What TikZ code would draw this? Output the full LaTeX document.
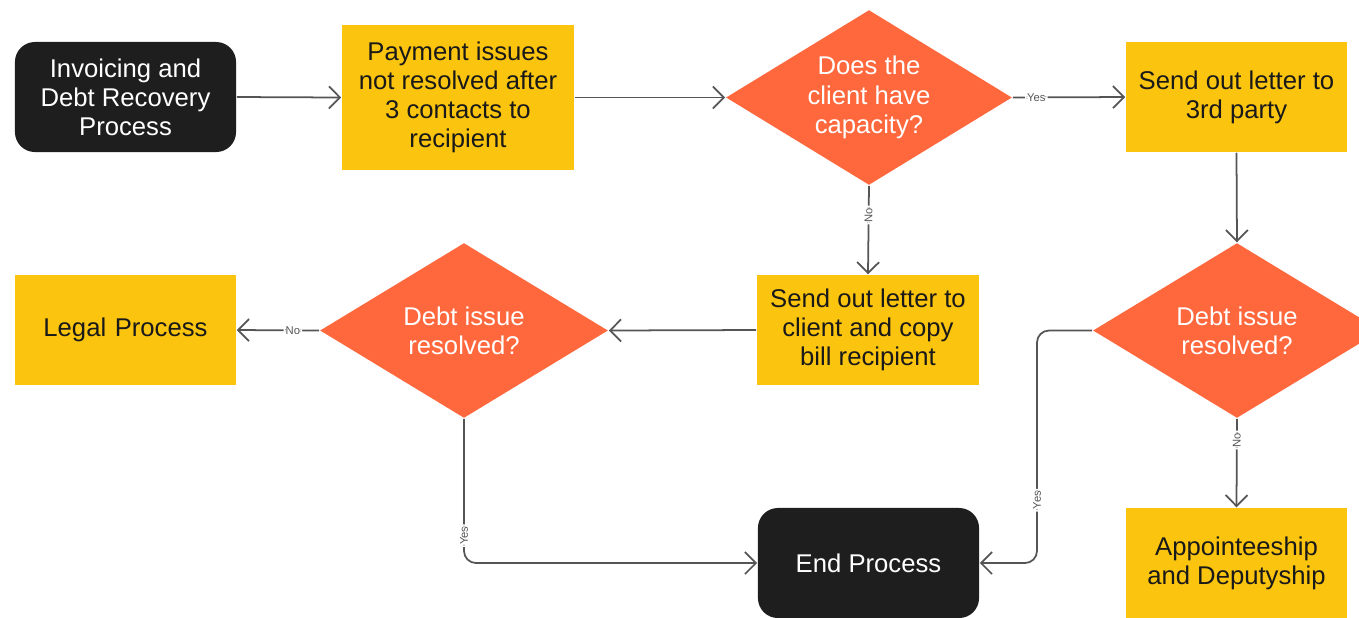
\documentclass[tikz,border=0pt]{standalone}
\usepackage{fontspec}
\setmainfont{Liberation Sans}
\usetikzlibrary{shapes.geometric,arrows.meta}
\definecolor{boxyellow}{HTML}{FBC40F}
\definecolor{deciorange}{HTML}{FF673D}
\definecolor{termblack}{HTML}{1E1E1E}
\definecolor{linegray}{HTML}{555555}
\tikzset{
  x=0.01cm, y=-0.01cm,
  basetext/.style={font=\fontsize{7.3pt}{8.3pt}\selectfont, align=center, inner sep=0pt},
  terminal/.style={basetext, rectangle, rounded corners=0.2cm, fill=termblack, text=white,
    minimum width=2.21cm, minimum height=1.1cm},
  taskbox/.style={basetext, rectangle, fill=boxyellow, text=black!90,
    minimum width=2.21cm, minimum height=1.1cm},
  decision/.style={basetext, diamond, aspect=1.64, fill=deciorange, text=white,
    minimum width=2.88cm, minimum height=1.75cm},
  flow/.style={draw=linegray, line width=0.5pt, -{Straight Barb[length=1.1mm,width=2.2mm]}, rounded corners=0.12cm},
  lbl/.style={font=\fontsize{3.2pt}{3.6pt}\selectfont, text=linegray, fill=white, inner sep=0.6pt},
}
\begin{document}
\begin{tikzpicture}
\clip (0,0) rectangle (1359,617);
\fill[white] (0,0) rectangle (1359,617);

% top row
\node[terminal] (start) at (125.5,97) {Invoicing and\\Debt Recovery\\Process};
\node[taskbox, minimum width=2.32cm, minimum height=1.45cm] (pay) at (458,97.5)
  {Payment issues\\not resolved after\\3 contacts to\\recipient};
\node[decision, minimum width=2.86cm] (cap) at (869,97.5) {Does the\\client have\\capacity?};
\node[taskbox] (third) at (1236.5,97) {Send out letter to\\3rd party};

% middle row
\node[taskbox, text width=2.1cm] (legal) at (125.5,330) {Legal Process};
\node[decision] (resL) at (464,330.5) {Debt issue\\resolved?};
\node[taskbox, minimum width=2.22cm] (client) at (868,330) {Send out letter to\\client and copy\\bill recipient};
\node[decision] (resR) at (1237,330.5) {Debt issue\\resolved?};

% bottom row
\node[terminal] (finish) at (868.5,563) {End Process};
\node[taskbox] (appoint) at (1236.5,563) {Appointeeship\\and Deputyship};

% connectors
\draw[flow] (start.east) -- (pay.west);
\draw[flow] (pay.east) -- (cap.west);
\draw[flow] (cap.east) -- node[lbl, pos=0.21] {Yes} (third.west);
\draw[flow] (cap.south) -- node[lbl, pos=0.33, rotate=90] {No} (client.north);
\draw[flow] (third.south) -- (resR.north);
\draw[flow] (client.west) -- (resL.east);
\draw[flow] (resL.west) -- node[lbl, pos=0.32] {No} (legal.east);
\draw[flow] (resL.south) -- node[lbl, pos=0.81, rotate=90] {Yes} (464,563) -- (finish.west);
\draw[flow] (resR.west) -- (1037,330.5) -- node[lbl, pos=0.73, rotate=90] {Yes} (1037,563) -- (finish.east);
\draw[flow] (resR.south) -- node[lbl, pos=0.24, rotate=90] {No} (appoint.north);
\end{tikzpicture}
\end{document}
